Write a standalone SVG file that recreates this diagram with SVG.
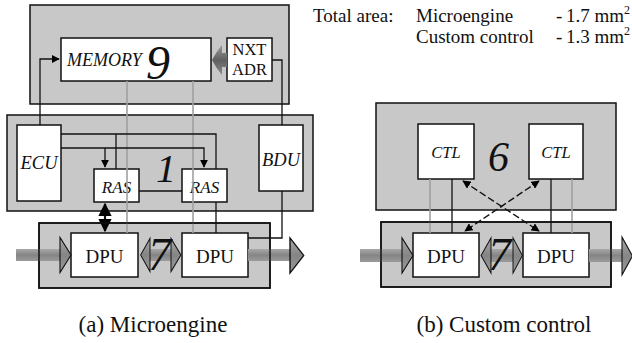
<svg xmlns="http://www.w3.org/2000/svg" width="632" height="343" viewBox="0 0 632 343">
  <defs>
    <linearGradient id="flow" x1="0" y1="0" x2="0" y2="1">
      <stop offset="0" stop-color="#a8a8a8"/>
      <stop offset="0.5" stop-color="#858585"/>
      <stop offset="1" stop-color="#9a9a9a"/>
    </linearGradient>
    <linearGradient id="flowDark" x1="0" y1="0" x2="0" y2="1">
      <stop offset="0" stop-color="#9a9a9a"/>
      <stop offset="0.5" stop-color="#606060"/>
      <stop offset="1" stop-color="#8a8a8a"/>
    </linearGradient>
    <marker id="tip" viewBox="0 0 10 10" refX="9" refY="5" markerWidth="6" markerHeight="6" orient="auto-start-reverse">
      <path d="M0,0 L10,5 L0,10 z" fill="#000"/>
    </marker>
    <!-- datapath flow arrowhead, pointing right; base at x=0 -->
    <polygon id="flowHead" class="head" points="0,-6.5 0,-17.5 11,0 0,17.5 0,6.5"/>
  </defs>
  <style>
    .panel { fill: #c8c8c8; stroke: #111; stroke-width: 1.5; }
    .frame { fill: none; stroke: #111; stroke-width: 1.5; }
    .box { fill: #fff; stroke: #111; stroke-width: 1.5; }
    .wire { fill: none; stroke: #111; stroke-width: 1.3; }
    .bus { fill: none; stroke: #111; stroke-width: 2.2; }
    .grey { fill: none; stroke: #a0a0a0; stroke-width: 1.6; }
    .dash { fill: none; stroke: #111; stroke-width: 1.4; stroke-dasharray: 7 3; }
    .shaft { fill: url(#flow); stroke: none; }
    .head { fill: url(#flow); stroke: #111; stroke-width: 1.1; }
    .rm { font-family: "Liberation Serif", "Times New Roman", serif; fill: #111; }
    .it { font-family: "Liberation Serif", "Times New Roman", serif; font-style: italic; fill: #111; }
  </style>
  <rect width="632" height="343" fill="#fff"/>

  <!-- ===== (a) Microengine ===== -->
  <g id="mem-panel">
    <rect class="panel" x="30" y="5" width="259" height="99"/>
  </g>
  <g id="ctl-panel-a">
    <rect class="panel" x="7" y="115" width="306" height="96"/>
    <text class="it" x="156" y="182" font-size="40">1</text>
  </g>
  <g id="dp-panel-a">
    <rect class="panel" x="39" y="223" width="231" height="65"/>
  </g>

  <g id="memory">
    <rect class="box" x="61" y="38" width="150" height="43"/>
    <text class="it" x="67" y="66" font-size="18">MEMORY</text>
    <text class="it" x="146" y="79" font-size="48">9</text>
  </g>
  <g id="nxt-adr">
    <rect class="box" x="227" y="38" width="45" height="43"/>
    <text class="rm" x="249.5" y="55" font-size="16.5" text-anchor="middle">NXT</text>
    <text class="rm" x="249.5" y="75" font-size="16.5" text-anchor="middle">ADR</text>
  </g>
  <g id="ecu">
    <rect class="box" x="17" y="125" width="44" height="76"/>
    <text class="it" x="39" y="169" font-size="18.5" text-anchor="middle">ECU</text>
  </g>
  <g id="bdu">
    <rect class="box" x="259" y="125" width="44" height="66"/>
    <text class="it" x="281" y="166" font-size="18.5" text-anchor="middle">BDU</text>
  </g>
  <g id="ras-1">
    <rect class="box" x="94" y="169" width="45" height="33"/>
    <text class="it" x="116.5" y="193" font-size="17" text-anchor="middle">RAS</text>
  </g>
  <g id="ras-2">
    <rect class="box" x="182" y="169" width="45" height="33"/>
    <text class="it" x="204.5" y="193" font-size="17" text-anchor="middle">RAS</text>
  </g>
  <g id="dpu-a1">
    <rect class="box" x="71" y="233" width="67" height="44"/>
    <text class="rm" x="104.5" y="263" font-size="19" text-anchor="middle">DPU</text>
  </g>
  <g id="dpu-a2">
    <rect class="box" x="182" y="233" width="66" height="44"/>
    <text class="rm" x="215" y="263" font-size="19" text-anchor="middle">DPU</text>
  </g>

  <g id="connectors-a">
    <!-- next-address feed into memory -->
    <path d="M227,53 L222,53 L222,45 Q216,52 212,60 Q216,68 222,75 L222,67 L227,67 z" fill="url(#flowDark)" stroke="none"/>
    <!-- ECU to memory address -->
    <polyline class="wire" points="40,125 40,59 59,59" marker-end="url(#tip)"/>
    <!-- NXT ADR to BDU -->
    <polyline class="wire" points="272,60 282,60 282,125"/>
    <!-- memory words down to the datapath -->
    <line class="grey" x1="127" y1="81" x2="127" y2="233"/>
    <line class="grey" x1="193" y1="81" x2="193" y2="233"/>
    <!-- ECU control lines to the RAS units -->
    <polyline class="wire" points="61,134 216,134 216,169"/>
    <line class="wire" x1="116" y1="134" x2="116" y2="169"/>
    <polyline class="wire" points="61,148 204,148 204,167" marker-end="url(#tip)"/>
    <line class="wire" x1="105" y1="148" x2="105" y2="167" marker-end="url(#tip)"/>
    <line class="wire" x1="139" y1="191" x2="182" y2="191"/>
    <!-- RAS to DPU -->
    <line class="bus" x1="105" y1="204" x2="105" y2="231" marker-start="url(#tip)" marker-end="url(#tip)"/>
    <line class="wire" x1="216" y1="202" x2="216" y2="233"/>
    <!-- BDU branch condition -->
    <polyline class="wire" points="282,191 282,238 248,238"/>
    <!-- datapath flow -->
    <rect class="shaft" x="16" y="249" width="45" height="12"/>
    <rect class="shaft" x="149" y="249" width="23" height="12"/>
    <rect class="shaft" x="248" y="249" width="43" height="12"/>
    <use href="#flowHead" transform="translate(60,255)"/>
    <use href="#flowHead" transform="translate(150,255) scale(-0.85,0.95)"/>
    <use href="#flowHead" transform="translate(171,255) scale(0.9,0.95)"/>
    <use href="#flowHead" transform="translate(290,255.5) scale(1.25,1)"/>
  </g>
  <g id="dp-frame-a">
    <rect class="frame" x="39" y="223" width="231" height="65"/>
    <text class="it" x="148" y="270" font-size="46">7</text>
  </g>
  <text class="rm" x="153" y="332" font-size="23" text-anchor="middle">(a) Microengine</text>

  <!-- ===== (b) Custom control ===== -->
  <g id="ctl-panel-b">
    <rect class="panel" x="376" y="103" width="240" height="107"/>
    <text class="it" x="488" y="171" font-size="42">6</text>
  </g>
  <g id="dp-panel-b">
    <rect class="panel" x="381" y="222" width="230" height="65"/>
  </g>
  <g id="ctl-1">
    <rect class="box" x="418" y="124" width="56" height="55"/>
    <text class="it" x="446" y="158" font-size="16.5" text-anchor="middle">CTL</text>
  </g>
  <g id="ctl-2">
    <rect class="box" x="529" y="124" width="54" height="55"/>
    <text class="it" x="556" y="158" font-size="16.5" text-anchor="middle">CTL</text>
  </g>
  <g id="dpu-b1">
    <rect class="box" x="413" y="233" width="66" height="44"/>
    <text class="rm" x="446" y="263" font-size="19" text-anchor="middle">DPU</text>
  </g>
  <g id="dpu-b2">
    <rect class="box" x="523" y="233" width="66" height="44"/>
    <text class="rm" x="556" y="263" font-size="19" text-anchor="middle">DPU</text>
  </g>

  <g id="connectors-b">
    <line class="grey" x1="430" y1="179" x2="430" y2="233"/>
    <line class="wire" x1="452" y1="179" x2="452" y2="233"/>
    <line class="wire" x1="551" y1="179" x2="551" y2="233"/>
    <line class="grey" x1="572" y1="179" x2="572" y2="233"/>
    <line class="dash" x1="463" y1="181" x2="539" y2="231" marker-start="url(#tip)" marker-end="url(#tip)"/>
    <line class="dash" x1="539" y1="181" x2="465" y2="231" marker-start="url(#tip)" marker-end="url(#tip)"/>
    <rect class="shaft" x="360" y="249" width="43" height="13"/>
    <rect class="shaft" x="490" y="249" width="24" height="13"/>
    <rect class="shaft" x="589" y="249" width="34" height="13"/>
    <use href="#flowHead" transform="translate(402,255.5)"/>
    <use href="#flowHead" transform="translate(491,255.5) scale(-0.9,1)"/>
    <use href="#flowHead" transform="translate(513,255.5) scale(0.85,1)"/>
    <use href="#flowHead" transform="translate(622,256) scale(0.95,1.08)"/>
  </g>
  <g id="dp-frame-b">
    <rect class="frame" x="381" y="222" width="230" height="65"/>
    <text class="it" x="488" y="270" font-size="46">7</text>
  </g>
  <text class="rm" x="504" y="332" font-size="23" text-anchor="middle">(b) Custom control</text>

  <!-- area summary -->
  <g id="area-note" class="rm" font-size="19">
    <text x="313" y="22">Total area:</text>
    <text x="416" y="22">Microengine</text>
    <text x="416" y="43">Custom control</text>
    <text x="556" y="22">-</text>
    <text x="556" y="43">-</text>
    <text x="566" y="22">1.7 mm<tspan dy="-8" font-size="12">2</tspan></text>
    <text x="566" y="43">1.3 mm<tspan dy="-8" font-size="12">2</tspan></text>
  </g>
</svg>
